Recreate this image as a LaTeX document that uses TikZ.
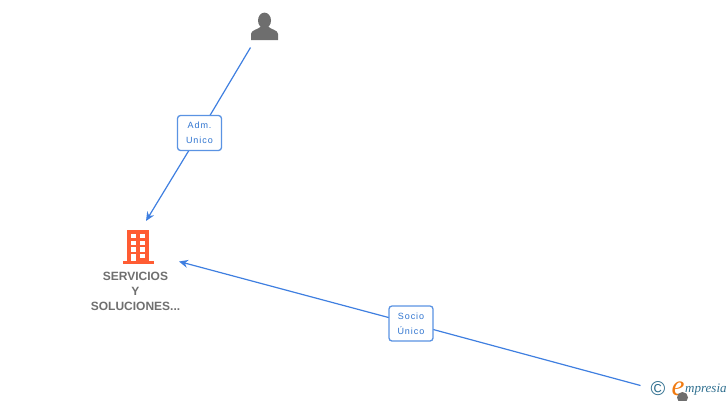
\documentclass[tikz,border=0pt]{standalone}
\usepackage{fontspec}
\setmainfont{Liberation Sans}
\newfontfamily\logofont{Liberation Serif}
\newfontfamily\tagfont[LetterSpace=11]{Liberation Sans}
\usetikzlibrary{arrows.meta}
\definecolor{edgeblue}{HTML}{3F7FE0}
\definecolor{boxblue}{HTML}{5A93E3}
\definecolor{txtblue}{HTML}{2F74D0}
\definecolor{icongray}{HTML}{6E6E6E}
\definecolor{namegray}{HTML}{6F6F6F}
\definecolor{bldorange}{HTML}{FF5C33}
\definecolor{logoteal}{HTML}{2F6F8F}
\definecolor{logoorange}{HTML}{F07A10}
\tikzset{
  linkarrow/.style={draw=edgeblue,line width=1.2pt,-{Stealth[length=9pt,width=8pt]}},
  linkplain/.style={draw=edgeblue,line width=1.2pt},
  tagbox/.style={draw=boxblue,line width=1.3pt,fill=white,rounded corners=3pt,minimum width=44pt,minimum height=35pt,align=center,text=txtblue,font=\tagfont\fontsize{9}{15}\selectfont},
  compname/.style={align=center,text=namegray,font=\bfseries\fontsize{12}{15}\selectfont},
  winpane/.style={fill=white,draw=none}
}
\begin{document}
\begin{tikzpicture}[x=1pt,y=-1pt]
\useasboundingbox (0,0) rectangle (728,400);
% person icon
\fill[icongray] (264.5,20.5) ellipse (6.5 and 7.9);
\fill[icongray] (251,40) -- (251,34) .. controls (251,30) and (258,29.5) .. (261,26.5) -- (268,26.5) .. controls (271,29.5) and (278,30) .. (278,34) -- (278,40) -- cycle;
\coordinate (p) at (250.5,47.5);
% building icon
\fill[bldorange] (127,230) rectangle (149,262);
\fill[bldorange] (122.5,261) rectangle (154,263.5);
\foreach \y in {234,240.7,247.3}{
  \fill[winpane] (130.7,\y) rectangle (135.5,\y+4.2);
  \fill[winpane] (140.3,\y) rectangle (145.3,\y+4.2);
}
\fill[winpane] (130.7,254) rectangle (135.5,261);
\fill[winpane] (140.3,254) rectangle (145.3,258.2);
\coordinate (b1) at (146,221);
\coordinate (b2) at (179,261.5);
\node[compname] (company) at (135.5,291) {SERVICIOS\\Y\\SOLUCIONES...};
% connectors
\coordinate (s) at (640.5,385.5);
\coordinate (admc) at (199.5,133);
\coordinate (socc) at (411,323.5);
\draw[linkplain] (p) -- (admc);
\draw[linkarrow] (admc) -- (b1);
\draw[linkplain] (s) -- (socc);
\draw[linkarrow] (socc) -- (b2);
\node[tagbox] (adm) at (admc) {Adm.\\Unico};
\node[tagbox] (soc) at (socc) {Socio\\Único};
% logo
\node[text=logoteal,font=\fontsize{20}{20}\selectfont,inner sep=0pt] (copy) at (658,388.5) {©};
\node[text=logoorange,font=\logofont\itshape\fontsize{29}{29}\selectfont,inner sep=0pt,anchor=base west] (e) at (671.5,395) {e};
\node[text=logoteal,font=\logofont\itshape\fontsize{13}{13}\selectfont,inner sep=0pt,anchor=base west] (m) at (685,392) {mpresia};
\fill[icongray] (682.5,397.5) circle (5.5);
\end{tikzpicture}
\end{document}
